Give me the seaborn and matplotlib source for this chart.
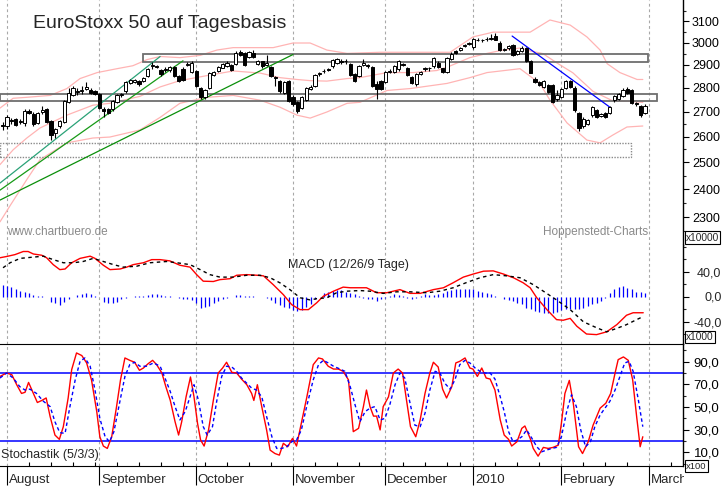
import numpy as np
import matplotlib
matplotlib.use("Agg")
import matplotlib.pyplot as plt
import matplotlib.ticker as mticker
from matplotlib.patches import Rectangle
import seaborn as sns

sns.set_style("white")
plt.rcParams['font.family'] = ['Liberation Sans', 'DejaVu Sans']

# trading day index: 0 = 3 Aug 2009, 146 = 1 Mar 2010
days = np.arange(-1, 146)

opens = [2648, 2640, 2668, 2670, 2660, 2655, 2702, 2690, 2655, 2697,
         2711, 2662, 2612, 2640, 2660, 2742, 2770, 2788, 2785, 2797,
         2790, 2785, 2776, 2712, 2711, 2711, 2740, 2768, 2785, 2822,
         2825, 2828, 2830, 2852, 2895, 2893, 2877, 2880, 2878, 2890,
         2850, 2880, 2900, 2870, 2873, 2800, 2760, 2800, 2855, 2872,
         2888, 2893, 2900, 2905, 2955, 2952, 2935, 2952, 2905, 2915,
         2900, 2890, 2845, 2830, 2780, 2830, 2760, 2740, 2715, 2750,
         2795, 2810, 2858, 2875, 2882, 2893, 2910, 2915, 2918, 2905,
         2860, 2850, 2900, 2898, 2890, 2815, 2830, 2825, 2870, 2868,
         2880, 2902, 2885, 2845, 2815, 2860, 2880, 2885, 2893, 2910,
         2885, 2870, 2925, 2960, 2968, 2985, 2995, 2980, 3012, 3010,
         3015, 3015, 3028, 3000, 2968, 2975, 2987, 2950, 2962, 2977,
         2918, 2840, 2825, 2805, 2813, 2813, 2752, 2762, 2800, 2830,
         2801, 2694, 2640, 2650, 2688, 2707, 2683, 2694, 2695, 2748,
         2755, 2765, 2795, 2790, 2735, 2722, 2695]
highs = [2660, 2685, 2675, 2675, 2670, 2712, 2712, 2700, 2700, 2725,
         2715, 2668, 2635, 2668, 2750, 2800, 2810, 2800, 2810, 2826,
         2800, 2790, 2780, 2718, 2716, 2750, 2775, 2780, 2830, 2840,
         2840, 2835, 2848, 2885, 2912, 2900, 2882, 2890, 2893, 2895,
         2855, 2890, 2912, 2915, 2878, 2805, 2795, 2870, 2875, 2893,
         2910, 2915, 2905, 2960, 2965, 2955, 2960, 2965, 2920, 2918,
         2945, 2895, 2852, 2835, 2830, 2835, 2770, 2745, 2765, 2805,
         2812, 2860, 2870, 2880, 2888, 2925, 2930, 2925, 2925, 2910,
         2865, 2900, 2925, 2905, 2895, 2830, 2835, 2872, 2882, 2898,
         2920, 2910, 2890, 2850, 2865, 2872, 2892, 2890, 2935, 2915,
         2888, 2935, 2955, 2965, 2980, 2995, 3002, 3020, 3020, 3018,
         3025, 3040, 3043, 3005, 2975, 2990, 2992, 2965, 2985, 2982,
         2920, 2845, 2830, 2835, 2818, 2818, 2790, 2800, 2835, 2835,
         2810, 2700, 2680, 2672, 2722, 2712, 2695, 2700, 2722, 2770,
         2780, 2800, 2802, 2795, 2742, 2728, 2730]
lows = [2625, 2630, 2650, 2640, 2650, 2640, 2690, 2640, 2650, 2690,
        2655, 2588, 2595, 2635, 2655, 2738, 2765, 2770, 2775, 2790,
        2775, 2770, 2710, 2678, 2690, 2705, 2735, 2760, 2780, 2815,
        2820, 2810, 2825, 2848, 2880, 2885, 2850, 2870, 2870, 2845,
        2825, 2828, 2895, 2865, 2805, 2755, 2752, 2795, 2850, 2868,
        2885, 2890, 2872, 2900, 2940, 2895, 2930, 2930, 2900, 2888,
        2895, 2845, 2810, 2780, 2775, 2740, 2725, 2695, 2710, 2745,
        2790, 2805, 2850, 2865, 2872, 2885, 2905, 2905, 2905, 2850,
        2825, 2845, 2895, 2888, 2805, 2755, 2790, 2820, 2865, 2862,
        2875, 2895, 2850, 2815, 2810, 2855, 2875, 2875, 2888, 2885,
        2865, 2865, 2920, 2948, 2962, 2980, 2988, 2970, 3005, 3002,
        3008, 3010, 3010, 2962, 2960, 2968, 2938, 2945, 2955, 2912,
        2862, 2822, 2808, 2800, 2778, 2735, 2745, 2758, 2795, 2800,
        2700, 2620, 2632, 2645, 2680, 2675, 2678, 2675, 2690, 2742,
        2750, 2760, 2772, 2733, 2725, 2680, 2690]
closes = [2640, 2678, 2662, 2648, 2664, 2703, 2696, 2650, 2694, 2707,
          2660, 2606, 2628, 2662, 2745, 2780, 2800, 2782, 2790, 2802,
          2778, 2776, 2715, 2705, 2695, 2745, 2770, 2775, 2825, 2835,
          2835, 2815, 2843, 2882, 2900, 2892, 2858, 2876, 2890, 2850,
          2830, 2835, 2905, 2908, 2810, 2762, 2790, 2865, 2870, 2890,
          2905, 2910, 2877, 2952, 2945, 2900, 2955, 2935, 2915, 2895,
          2910, 2850, 2842, 2785, 2825, 2745, 2730, 2705, 2760, 2800,
          2803, 2855, 2862, 2872, 2878, 2920, 2925, 2912, 2915, 2855,
          2830, 2895, 2910, 2893, 2810, 2795, 2795, 2868, 2875, 2893,
          2915, 2900, 2855, 2820, 2860, 2867, 2888, 2884, 2930, 2890,
          2870, 2930, 2950, 2952, 2975, 2990, 2998, 3017, 3010, 3013,
          3018, 3022, 3012, 2968, 2972, 2985, 2942, 2960, 2977, 2918,
          2866, 2826, 2812, 2830, 2782, 2740, 2768, 2795, 2830, 2805,
          2707, 2634, 2670, 2665, 2718, 2680, 2690, 2680, 2718, 2766,
          2775, 2793, 2778, 2738, 2730, 2688, 2725]

# Bollinger bands (day index, price)
upper_x = [-1.6, 1.4, 4.5, 9.8, 13.6, 16.6, 20.5, 25.0, 28.6, 31.8, 34.8, 39.3, 43.9,
           47.7, 51.4, 60.5, 65.0, 68.9, 72.7, 77.3, 84.8, 100.7, 105.9, 110.5, 118.9,
           123.4, 128.0, 131.8, 134.8, 136.4, 139.3, 143.2, 144.5]
upper_p = [2715, 2756, 2760, 2768, 2797, 2840, 2866, 2883, 2896, 2923, 2937, 2932, 2942,
           2966, 2977, 2977, 2998, 2998, 2966, 2951, 2956, 2956, 3026, 3048, 3048,
           3105, 3081, 3026, 2966, 2905, 2866, 2836, 2836]
middle_x = [-1.6, 1.4, 4.5, 7.5, 13.6, 19.5, 23.4, 30.2, 34.8, 39.3, 45.5, 51.4, 57.5,
            62.0, 65.9, 68.9, 72.7, 77.3, 80.2, 86.4, 92.3, 97.7, 100.7, 105.2, 109.1,
            112.7, 116.6, 118.9, 121.8, 125.0, 128.6, 133.2, 137.7, 140.9, 144.5]
middle_p = [2491, 2548, 2594, 2634, 2686, 2727, 2735, 2764, 2804, 2831, 2853, 2873, 2864,
            2844, 2836, 2831, 2829, 2840, 2844, 2866, 2866, 2875, 2895, 2932, 2951,
            2966, 2975, 2962, 2950, 2908, 2865, 2785, 2745, 2744, 2739]
lower_x = [-1.6, 0.7, 4.5, 7.5, 13.6, 19.5, 23.4, 30.2, 34.8, 39.3, 45.5, 51.4, 57.5,
           62.0, 65.9, 68.9, 72.7, 77.3, 80.2, 86.4, 91.6, 100.0, 105.2, 109.1, 116.6,
           121.1, 123.4, 127.3, 131.8, 134.8, 137.7, 140.9, 144.5]
lower_p = [2283, 2340, 2435, 2510, 2575, 2594, 2598, 2626, 2677, 2735, 2760, 2768, 2748,
           2719, 2686, 2674, 2699, 2735, 2739, 2789, 2797, 2819, 2844, 2866, 2883,
           2819, 2748, 2654, 2586, 2575, 2606, 2638, 2642]

# support / resistance zones
zone_left = [30.9, -1.6, -1.6]
zone_right = [145.7, 147.7, 141.8]
zone_low = [2912, 2744, 2520]
zone_high = [2948, 2774, 2574]

# trend lines (start/end day, start/end price)
up_trend_x = [[-1.6, 34.8], [-1.6, 40.0], [-1.6, 65.0]]
up_trend_p = [[2422, 2937], [2396, 2918], [2360, 2946]]
down_trend_x = [114.8, 137.0]
down_trend_p = [3030, 2719]

# MACD (12/26/9)
macd_x = [-1.6, -0.1, 1.8, 3.7, 4.8, 6.0, 7.9, 9.0, 10.5, 12.0, 13.2, 14.7, 16.6, 18.9,
          20.0, 21.9, 23.4, 25.7, 27.2, 28.7, 31.0, 32.9, 34.8, 37.0, 39.3, 41.6, 43.1,
          44.6, 46.9, 48.4, 50.7, 52.2, 54.5, 56.8, 58.3, 60.5, 62.8, 64.7, 66.6, 68.5,
          70.4, 71.9, 74.2, 76.4, 78.0, 81.7, 84.0, 86.3, 89.3, 91.6, 93.9, 96.9, 99.2,
          101.4, 103.7, 106.0, 108.3, 110.5, 112.8, 115.1, 117.3, 118.9, 120.4, 122.7,
          124.9, 126.4, 128.0, 129.5, 131.7, 134.0, 136.3, 138.6, 140.8, 142.3, 144.6]
macd_v = [62, 64, 67, 72, 72, 68, 66, 62, 51, 43, 44, 54, 61, 64.5,
          61, 50, 43, 44, 47, 51, 54, 59, 59, 57, 50, 47, 35,
          24.5, 24, 27, 28.5, 34, 35, 34, 33, 19, 3, -13, -21, -21,
          -10, 0.5, 8.5, 15, 14, 14, 6, 6, 11, 5, 5, 11, 14,
          22, 31, 36, 40.5, 41, 36, 30, 22, 14, -2, -21,
          -37, -38, -35, -47.5, -60, -61, -56.5, -45, -30, -26, -26]
signal_x = [-0.9, 0.7, 3.0, 5.2, 8.3, 10.5, 12.8, 15.1, 17.3, 19.6, 21.9, 24.2, 26.4,
            29.5, 32.5, 36.3, 38.6, 41.6, 43.9, 46.1, 48.4, 51.4, 54.5, 57.5, 59.8,
            62.0, 64.3, 66.6, 68.9, 70.4, 72.7, 74.9, 77.2, 80.2, 82.5, 85.5, 88.6,
            91.6, 95.4, 98.4, 101.4, 104.5, 107.5, 110.5, 113.6, 116.6, 119.6, 121.9,
            124.9, 128.0, 131.0, 134.0, 136.3, 138.6, 140.8, 143.1, 144.6]
signal_v = [46, 54, 61, 62.5, 64.5, 59, 54, 54, 56, 61, 56, 51, 47,
            48.5, 54, 56, 54, 51, 43, 35, 31, 31, 34, 34, 30,
            22, 11, -2, -5.5, -3.5, -2, 6, 8.5, 9.5, 8.5, 5, 7.5,
            7.5, 6, 8.5, 14, 22.5, 30, 35, 33, 30, 19, 8.5,
            -5.5, -21, -40.5, -50, -56.5, -51, -45, -37, -32]
hist = [18.7, 17, 15, 11.7, 9.6, 8, 5.3, 2, 1, 0.5,
        0, -8, -10.7, -13.3, -8, -4.3, -1, 2.7, 4.3, 5.3,
        4.3, 1, -1, -8, -9.6, -10.7, -8, -4.3, -2.7, 0,
        0.5, 1, 1.5, 2.5, 4.3, 3.7, 2, 1, 0.5, -1,
        -2.7, -4.3, -4.3, -5.3, -10.7, -18.7, -17, -15, -10.7, -6.4,
        -4.3, -2.7, -1, 2.7, 2.7, 1, 0.5, 0.5, 0, -0.5,
        -2.7, -5.3, -10.7, -13.3, -16, -18.7, -21.3, -22.4, -21.3, -16,
        -11.7, -4.3, -1, 5.3, 8, 9.6, 10.7, 10.7, 8, 5.3,
        4.3, 1, -1.6, -3.2, -4.3, -7, -3.2, -1.6, 0.5, 3.7,
        2, 1, -1.6, -3.2, -1.6, 0.5, 3.7, 2, 2, 3.7,
        6.4, 9, 10.7, 11.7, 12.8, 12.8, 11.7, 11.7, 9, 7.5,
        5.3, 3.7, 0.5, 0, -4.3, -5.3, -7, -9.6, -12.3, -17.6,
        -20.3, -23, -24.5, -25.6, -25.6, -25.6, -24.5, -21.3, -20.3, -19.2,
        -20.3, -19.2, -17.6, -15, -12.3, -9.6, -7, -1.6, 6.4, 11.7,
        16, 17, 14.4, 11.7, 7.5, 7.5, 5]

# Stochastik (5/3/3)
k_x = [-1.6, -0.1, 1.1, 2.2, 3.3, 4.1, 4.9, 6.0, 6.9, 7.9,
       8.9, 9.8, 10.9, 11.9, 12.8, 13.9, 14.7, 15.8, 17.0, 18.1,
       19.2, 20.4, 21.1, 21.9, 22.8, 23.8, 24.9, 25.8, 26.8, 27.9,
       29.0, 30.1, 31.0, 32.1, 33.1, 34.0, 35.2, 36.1, 37.1, 38.2,
       39.0, 39.7, 40.7, 41.7, 42.5, 43.3, 44.0, 44.8, 45.8, 46.9,
       48.0, 49.0, 49.9, 51.1, 52.2, 53.3, 54.5, 55.6, 56.1, 56.9,
       57.9, 59.0, 59.8, 60.9, 61.9, 62.8, 63.8, 64.9, 65.8, 66.9,
       68.1, 69.6, 70.8, 71.7, 73.0, 74.2, 75.3, 76.4, 77.6, 78.7,
       79.9, 81.0, 81.7, 82.5, 83.3, 84.0, 84.8, 85.5, 86.7, 87.8,
       88.9, 89.9, 90.8, 91.7, 92.9, 93.9, 95.0, 96.1, 96.9, 98.0,
       99.0, 99.9, 101.1, 102.0, 102.9, 104.1, 105.2, 105.9, 106.9, 107.9,
       108.9, 109.8, 110.9, 112.1, 113.0, 114.0, 114.7, 115.9, 117.0, 117.7,
       118.9, 119.6, 120.7, 121.9, 123.0, 124.1, 125.3, 126.0, 126.8, 127.8,
       128.7, 129.9, 130.8, 132.1, 133.2, 134.8, 136.1, 137.2, 138.2, 138.9,
       140.1, 141.2, 142.2, 143.1, 143.9, 144.5]
k_v = [77, 80, 78.5, 69.7, 62, 63, 71.7, 62, 54, 55.8,
       58, 41.6, 25.3, 21.5, 32.7, 58, 83, 97.7, 95.4, 88.9,
       74, 46, 23.8, 15.6, 13.5, 23.8, 50.4, 74, 93.3, 91.2,
       89.5, 82.4, 84.4, 88.3, 91.2, 87.4, 80, 68, 56, 37,
       25.3, 37, 59, 76.5, 59, 35.7, 20.9, 15.6, 29.8, 56,
       80, 84.4, 89.5, 80.6, 80, 74.7, 69.7, 62, 55.8, 69.7,
       50.4, 29.8, 12, 9, 7.6, 18, 15, 22.4, 15.6, 35.7,
       58, 87.4, 93.3, 92.4, 86, 83.5, 83.5, 81.5, 74, 28.3,
       31.2, 50.4, 65, 50.4, 42, 42, 29.8, 50.4, 59, 80,
       83.5, 80, 56, 32.7, 23.8, 38.6, 62, 80, 89.5, 85.3,
       65.8, 58, 68, 88.9, 90.3, 93.3, 84.4, 83.5, 77, 84.4,
       75.6, 74.7, 65, 38.6, 25.3, 21.5, 15.6, 19.4, 31.2, 33.3,
       22.4, 13.5, 6.7, 14.4, 13.5, 14.4, 16.4, 35.7, 62, 73.5,
       53.4, 15, 9, 19.4, 34, 49, 53.4, 62, 80, 91.8,
       94.2, 91.2, 74, 41.6, 15, 23.8]
d_x = [-1.6, -0.1, 1.4, 2.9, 4.1, 5.2, 6.7, 8.3, 9.8, 10.9,
       12.0, 13.2, 14.3, 15.5, 16.6, 17.7, 18.9, 20.0, 21.1, 22.3,
       23.3, 24.3, 25.5, 26.8, 27.9, 29.0, 30.2, 31.7, 33.3, 34.8,
       35.9, 37.1, 38.2, 39.3, 40.5, 41.6, 42.5, 43.5, 44.6, 45.5,
       46.7, 47.7, 48.8, 49.9, 51.1, 52.2, 53.3, 54.5, 55.6, 56.7,
       57.9, 59.0, 60.2, 61.3, 62.4, 63.6, 64.7, 65.8, 66.9, 68.1,
       69.6, 70.8, 71.9, 73.0, 74.2, 75.7, 76.8, 78.0, 79.1, 80.2,
       81.4, 82.5, 83.6, 84.8, 85.9, 87.0, 88.2, 89.3, 90.4, 91.6,
       92.7, 93.9, 95.0, 96.1, 97.3, 98.4, 99.5, 100.7, 101.8, 102.9,
       104.1, 105.2, 106.4, 107.5, 108.6, 109.8, 110.9, 112.1, 113.0, 114.0,
       115.0, 115.9, 117.0, 118.1, 119.3, 120.4, 121.5, 122.6, 123.8, 124.9,
       126.0, 127.2, 128.3, 129.4, 130.4, 131.5, 132.6, 133.6, 134.8, 135.9,
       137.0, 138.2, 139.3, 140.4, 141.4, 142.3, 143.5, 144.5]
d_v = [75.6, 80, 75.6, 68, 65, 65.8, 62, 55, 50.4, 37,
       27.4, 26.8, 50.4, 74, 90.3, 93.3, 86, 65, 40, 23.8,
       19.4, 28.3, 52, 77, 87.4, 89.5, 86, 86, 88.9, 86,
       75.6, 63.7, 50.4, 38.6, 46, 59, 69.7, 56, 32.7, 25.3,
       32.7, 56, 77, 86, 85.3, 81.5, 75.6, 71, 66.7, 65,
       59, 41.6, 23.8, 13.5, 13.5, 15, 19.4, 20.9, 29.8, 50.4,
       74, 87.4, 91.2, 88.9, 86, 83.5, 81.5, 68, 52, 37,
       46, 49, 50.4, 38.6, 40, 52, 69.7, 80, 75.6, 53.4,
       34, 32.7, 44.5, 65, 81.5, 80, 71, 65.8, 74, 87.4,
       91.2, 88.9, 84.4, 81.5, 80, 80, 74.7, 59, 46, 28.3,
       19.4, 20.9, 23.8, 29.8, 22.4, 15, 10.5, 12, 13.5, 14.4,
       23.8, 46, 60.8, 50.4, 29.8, 15, 19.4, 32.7, 43, 49,
       55, 65, 77, 88.9, 90.3, 81.5, 56, 32.7]

months = [0, 21, 43, 65, 86, 106, 126, 146]
month_names = ["August", "September", "October", "November", "December",
               "2010", "February", "March"]
mondays = [5, 10, 15, 20, 25, 30, 35, 40, 45, 50, 55, 60, 70, 75, 80, 85, 90, 95,
           100, 103, 111, 116, 121, 131, 136, 141, 151]

price_ticks = [2300, 2400, 2500, 2600, 2700, 2800, 2900, 3000, 3100]
price_minor = [2250, 2350, 2450, 2550, 2650, 2750, 2850, 2950, 3050, 3150]
macd_ticks = [40, 0, -40]
macd_labels = ["40,0", "0,0", "-40,0"]
stoch_ticks = [90, 70, 50, 30, 10]
stoch_labels = ["90,0", "70,0", "50,0", "30,0", "10,0"]

# ---------------------------------------------------------------- layout
W, H = 723, 486
fig = plt.figure(figsize=(W / 100, H / 100), dpi=100)


def panel(y0, y1):
    return [0, 1 - y1 / H, 683 / W, (y1 - y0) / H]


ax_p = fig.add_axes(panel(0, 245))
ax_m = fig.add_axes(panel(245, 344))
ax_s = fig.add_axes(panel(344, 466))

for ax in (ax_p, ax_m, ax_s):
    for side in ("left", "top", "bottom"):
        ax.spines[side].set_visible(False)
    ax.spines["right"].set_color("black")
    ax.spines["right"].set_linewidth(1)
    ax.yaxis.tick_right()
    ax.tick_params(axis="y", which="major", direction="out", length=4.5, width=0.8,
                   pad=2.0, labelsize=9, right=True, left=False, colors="black")
    ax.tick_params(axis="y", which="minor", direction="out", length=2.5, width=0.8,
                   right=True, left=False)
    for m in months:
        ax.axvline(m, color="#a8a8a8", lw=0.8, ls=(0, (2.5, 2.5)), zorder=0)

# ---------------------------------------------------------------- price
o, h, l, c = map(np.array, (opens, highs, lows, closes))
rise = c >= o
ax_p.vlines(days, l, h, color="black", lw=0.8, zorder=3)
ax_p.bar(days[rise], (c - o)[rise], bottom=o[rise], width=0.7, color="white",
         edgecolor="black", lw=0.7, zorder=4)
ax_p.bar(days[~rise], (o - c)[~rise], bottom=c[~rise], width=0.7, color="black",
         edgecolor="black", lw=0.7, zorder=4)

for bx, bp in ((upper_x, upper_p), (middle_x, middle_p), (lower_x, lower_p)):
    sns.lineplot(x=bx, y=bp, ax=ax_p, color="#ffb4b4", lw=0.9, legend=False, zorder=1)

for i in range(3):
    ax_p.add_patch(Rectangle((zone_left[i], zone_low[i]), zone_right[i] - zone_left[i],
                             zone_high[i] - zone_low[i], fill=False,
                             ec="#6e6e6e" if i < 2 else "#8a8a8a",
                             lw=1.3 if i < 2 else 1.0,
                             ls="-" if i < 2 else (0, (1, 1)), zorder=2))

for (tx, tp), col in zip(zip(up_trend_x, up_trend_p), ["#2aa277", "#169a16", "#0a8f0a"]):
    ax_p.plot(tx, tp, color=col, lw=0.9, zorder=2)
ax_p.plot(down_trend_x, down_trend_p, color="#0000ff", lw=0.9, zorder=2)

ax_p.set_yscale("log")
ax_p.set_ylim(2204, 3201)
ax_p.yaxis.set_major_locator(mticker.FixedLocator(price_ticks))
ax_p.yaxis.set_major_formatter(mticker.FixedFormatter([str(t) for t in price_ticks]))
ax_p.yaxis.set_minor_locator(mticker.FixedLocator(price_minor))
ax_p.yaxis.set_minor_formatter(mticker.NullFormatter())

# ---------------------------------------------------------------- MACD
ax_m.vlines(days, 0, hist, color="#0000ff", lw=0.9, zorder=2)
sns.lineplot(x=macd_x, y=macd_v, ax=ax_m, color="#ff0000", lw=1.0, legend=False, zorder=3)
sns.lineplot(x=signal_x, y=signal_v, ax=ax_m, color="black", lw=1.0,
             linestyle=(0, (2.5, 2.5)), legend=False, zorder=3)
ax_m.set_ylim(-76, 82.4)
ax_m.yaxis.set_major_locator(mticker.FixedLocator(macd_ticks))
ax_m.yaxis.set_minor_locator(mticker.FixedLocator([80, 60, 20, -20, -60]))
ax_m.tick_params(axis="y", labelright=False)
for t, lab in zip(macd_ticks, macd_labels):
    ax_m.text(721.5 / 683, t, lab, transform=ax_m.get_yaxis_transform(), ha="right",
              va="center_baseline", fontsize=9)

# ---------------------------------------------------------------- Stochastik
ax_s.axhline(80, color="#0000ff", lw=1.1, zorder=1)
ax_s.axhline(20, color="#0000ff", lw=1.1, zorder=1)
sns.lineplot(x=k_x, y=k_v, ax=ax_s, color="#ff0000", lw=1.0, legend=False, zorder=3)
sns.lineplot(x=d_x, y=d_v, ax=ax_s, color="#0000ff", lw=1.0,
             linestyle=(0, (2.5, 2)), legend=False, zorder=3)
ax_s.set_ylim(-2.0, 105.6)
ax_s.yaxis.set_major_locator(mticker.FixedLocator(stoch_ticks))
ax_s.yaxis.set_major_formatter(mticker.FixedFormatter(stoch_labels))
ax_s.yaxis.set_minor_locator(mticker.FixedLocator([100, 80, 60, 40, 20, 0]))
ax_s.tick_params(axis="y", labelsize=9.5, pad=3.2)
ax_s.spines["top"].set_visible(True)
ax_s.spines["top"].set_color("black")
ax_s.spines["bottom"].set_visible(True)
ax_s.spines["bottom"].set_color("black")
ax_s.set_xticks(months)
ax_s.set_xticklabels([])
ax_s.set_xticks(mondays, minor=True)
ax_s.tick_params(axis="x", which="major", bottom=True, direction="out", length=14,
                 width=0.8, color="black")
ax_s.tick_params(axis="x", which="minor", bottom=True, direction="in", length=3,
                 width=0.8, color="black")
for m, name in zip(months, month_names):
    ax_s.text(m + 0.35, -0.139, name, transform=ax_s.get_xaxis_transform(),
              fontsize=9.5, va="baseline", ha="left")

for ax in (ax_p, ax_m, ax_s):
    ax.set_xlim(-7 / 4.4, 676 / 4.4)
    ax.set_xlabel("")
    ax.set_ylabel("")
ax_p.tick_params(axis="x", bottom=False, labelbottom=False)
ax_m.tick_params(axis="x", bottom=False, labelbottom=False)

# ---------------------------------------------------------------- texts
def fx(px):
    return px / W


def fy(py):
    return 1 - py / H


fig.text(fx(33), fy(28), "EuroStoxx 50 auf Tagesbasis", fontsize=14, va="baseline")
fig.text(fx(7), fy(235), "www.chartbuero.de", fontsize=8.5, color="#8a8a8a", va="baseline")
fig.text(fx(648), fy(234.5), "Hoppenstedt-Charts", fontsize=8.5, color="#8a8a8a",
         va="baseline", ha="right")
fig.text(fx(288), fy(268), "MACD (12/26/9 Tage)", fontsize=9, va="baseline")
fig.text(fx(1), fy(458), "Stochastik (5/3/3)", fontsize=9, va="baseline")

box_style = dict(boxstyle="square,pad=0.12", fc="white", ec="black", lw=0.8)
fig.text(fx(686), fy(237.5), "x10000", fontsize=7.3, va="center", bbox=box_style, zorder=10)
fig.text(fx(686), fy(337), "x1000", fontsize=7.3, va="center", bbox=box_style, zorder=10)
fig.text(fx(686), fy(466), "x100", fontsize=6.8, va="center", bbox=box_style, zorder=10)

fig.patches.append(Rectangle((fx(684), 0), 1 - fx(684), fy(467), transform=fig.transFigure,
                             fc="white", ec="none", zorder=5))

fig.savefig("out.png", dpi=100)
